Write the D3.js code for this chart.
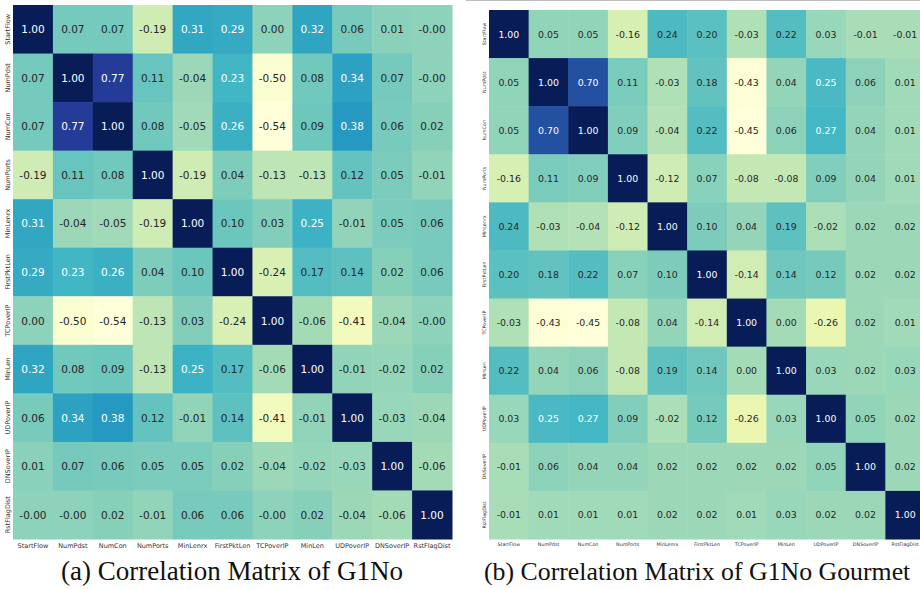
<!DOCTYPE html>
<html><head><meta charset="utf-8">
<script src="https://cdn.jsdelivr.net/npm/d3@7"></script>
<style>body{margin:0;background:#fff}svg{display:block}</style>
</head><body>
<svg id="c" width="920" height="589"></svg>
<script>
const labels = ["StartFlow","NumPdst","NumCon","NumPorts","MinLenrx","FirstPktLen","TCPoverIP","MinLen","UDPoverIP","DNSoverIP","RstFlagDist"];

const corrG1No = [
 [1.00, 0.07, 0.07,-0.19, 0.31, 0.29, 0.00, 0.32, 0.06, 0.01,-0.00],
 [0.07, 1.00, 0.77, 0.11,-0.04, 0.23,-0.50, 0.08, 0.34, 0.07,-0.00],
 [0.07, 0.77, 1.00, 0.08,-0.05, 0.26,-0.54, 0.09, 0.38, 0.06, 0.02],
 [-0.19,0.11, 0.08, 1.00,-0.19, 0.04,-0.13,-0.13, 0.12, 0.05,-0.01],
 [0.31,-0.04,-0.05,-0.19, 1.00, 0.10, 0.03, 0.25,-0.01, 0.05, 0.06],
 [0.29, 0.23, 0.26, 0.04, 0.10, 1.00,-0.24, 0.17, 0.14, 0.02, 0.06],
 [0.00,-0.50,-0.54,-0.13, 0.03,-0.24, 1.00,-0.06,-0.41,-0.04,-0.00],
 [0.32, 0.08, 0.09,-0.13, 0.25, 0.17,-0.06, 1.00,-0.01,-0.02, 0.02],
 [0.06, 0.34, 0.38, 0.12,-0.01, 0.14,-0.41,-0.01, 1.00,-0.03,-0.04],
 [0.01, 0.07, 0.06, 0.05, 0.05, 0.02,-0.04,-0.02,-0.03, 1.00,-0.06],
 [-0.00,-0.00,0.02,-0.01, 0.06, 0.06,-0.00, 0.02,-0.04,-0.06, 1.00]
];

const corrGourmet = [
 [1.00, 0.05, 0.05,-0.16, 0.24, 0.20,-0.03, 0.22, 0.03,-0.01,-0.01],
 [0.05, 1.00, 0.70, 0.11,-0.03, 0.18,-0.43, 0.04, 0.25, 0.06, 0.01],
 [0.05, 0.70, 1.00, 0.09,-0.04, 0.22,-0.45, 0.06, 0.27, 0.04, 0.01],
 [-0.16,0.11, 0.09, 1.00,-0.12, 0.07,-0.08,-0.08, 0.09, 0.04, 0.01],
 [0.24,-0.03,-0.04,-0.12, 1.00, 0.10, 0.04, 0.19,-0.02, 0.02, 0.02],
 [0.20, 0.18, 0.22, 0.07, 0.10, 1.00,-0.14, 0.14, 0.12, 0.02, 0.02],
 [-0.03,-0.43,-0.45,-0.08,0.04,-0.14, 1.00, 0.00,-0.26, 0.02, 0.01],
 [0.22, 0.04, 0.06,-0.08, 0.19, 0.14, 0.00, 1.00, 0.03, 0.02, 0.03],
 [0.03, 0.25, 0.27, 0.09,-0.02, 0.12,-0.26, 0.03, 1.00, 0.05, 0.02],
 [-0.01,0.06, 0.04, 0.04, 0.02, 0.02, 0.02, 0.02, 0.05, 1.00, 0.02],
 [-0.01,0.01, 0.01, 0.01, 0.02, 0.02, 0.01, 0.03, 0.02, 0.02, 1.00]
];

const captions = ["(a) Correlation Matrix of G1No", "(b) Correlation Matrix of G1No Gourmet"];

const svg = d3.select("#c");
const cmap = d3.piecewise(d3.interpolateRgb, d3.schemeYlGnBu[9]);

function fmt(v){ return Object.is(v,-0) ? "-0.00" : v.toFixed(2); }
function lum(c){
  const r = d3.rgb(c);
  const f = x => { x/=255; return x<=0.03928 ? x/12.92 : Math.pow((x+0.055)/1.055,2.4); };
  return 0.2126*f(r.r)+0.7152*f(r.g)+0.0722*f(r.b);
}

function heatmap(matrix, cfg){
  const g = svg.append("g");
  const x = d3.scaleBand().domain(labels).range([cfg.x0, cfg.x1]);
  const y = d3.scaleBand().domain(labels).range([cfg.y0, cfg.y1]);
  const flat = matrix.flat();
  const color = d3.scaleSequential(cmap).domain([d3.min(flat), d3.max(flat)]);
  const cells = [];
  matrix.forEach((row,i)=>row.forEach((v,j)=>cells.push({r:labels[i],c:labels[j],v})));
  g.selectAll("rect").data(cells).join("rect")
    .attr("x",d=>x(d.c)).attr("y",d=>y(d.r))
    .attr("width",x.bandwidth()+0.5).attr("height",y.bandwidth()+0.5)
    .attr("fill",d=>color(d.v));
  g.selectAll("text.v").data(cells).join("text").attr("class","v")
    .attr("x",d=>x(d.c)+x.bandwidth()/2).attr("y",d=>y(d.r)+y.bandwidth()/2)
    .attr("text-anchor","middle").attr("dominant-baseline","central")
    .attr("font-family","DejaVu Sans").attr("font-size",cfg.fs)
    .attr("fill",d=>lum(color(d.v))<0.403 ? "#ffffff" : "#262626")
    .text(d=>fmt(d.v));
  g.selectAll("text.xl").data(labels).join("text").attr("class","xl")
    .attr("x",d=>x(d)+x.bandwidth()/2).attr("y",cfg.y1+cfg.tfs+2)
    .attr("text-anchor","middle").attr("font-family","DejaVu Sans")
    .attr("font-size",cfg.tfs).attr("fill","#333").text(d=>d);
  g.selectAll("text.yl").data(labels).join("text").attr("class","yl")
    .attr("transform",d=>`translate(${cfg.x0-3},${y(d)+y.bandwidth()/2}) rotate(-90)`)
    .attr("text-anchor","middle").attr("font-family","DejaVu Sans")
    .attr("font-size",cfg.tfs).attr("fill","#333").text(d=>d);
  svg.append("text").attr("x",cfg.capX).attr("y",580)
    .attr("font-family","Liberation Serif").attr("font-size",cfg.cfs)
    .attr("fill","#111").text(cfg.caption);
}

heatmap(corrG1No, {x0:13, x1:452, y0:5, y1:539, fs:10.5, tfs:6.5, capX:61, cfs:27, caption:captions[0]});
heatmap(corrGourmet, {x0:489, x1:925, y0:10, y1:539, fs:9.4, tfs:4.8, capX:484, cfs:25.8, caption:captions[1]});

svg.append("line").attr("x1",466).attr("x2",920).attr("y1",0.5).attr("y2",0.5)
  .attr("stroke","#bdbdbd").attr("stroke-width",1);
</script>
</body></html>
